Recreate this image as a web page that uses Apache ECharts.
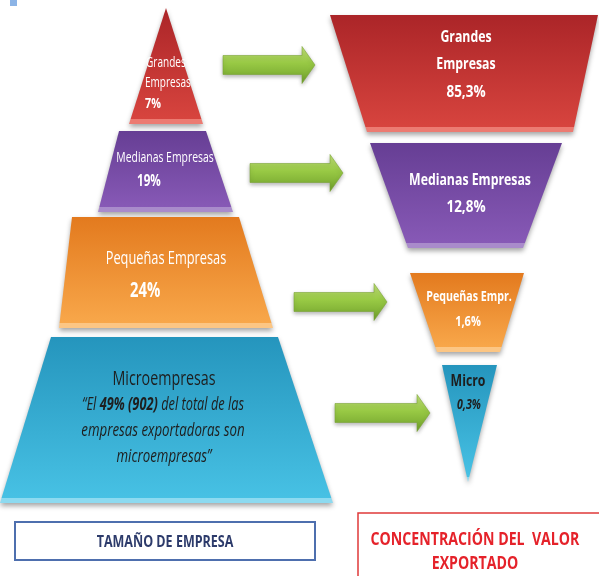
<!DOCTYPE html>
<html lang="es">
<head>
<meta charset="UTF-8">
<title>Tamaño de empresa y valor exportado</title>
<script src="https://cdn.jsdelivr.net/npm/echarts@6/dist/echarts.min.js"></script>
<style>
    html, body { margin: 0; padding: 0; background: #fff; }
    #main { width: 599px; height: 576px; }
</style>
</head>
<body>
<div id="main"></div>
<script type="text/javascript">
    // datos
    var sizeNames = ['Grandes Empresas', 'Medianas Empresas', 'Pequeñas Empresas', 'Microempresas'];
    var firmShare = [7, 19, 24, 49];
    var microCount = 902;
    var exportNames = ['Grandes Empresas', 'Medianas Empresas', 'Pequeñas Empr.', 'Micro'];
    var exportShare = [85.3, 12.8, 1.6, 0.3];

    // layout in axis units: y0, y1, topLeft, topRight, bottomLeft, bottomRight
    var leftBands = [
        [8, 124, 166, 166, 129, 203],
        [131, 212, 119, 206, 98, 233],
        [217, 328, 72, 239, 59, 273],
        [337, 503, 51, 278, 0, 333]
    ];
    var rightBands = [
        [15, 132, 330, 598, 367, 573],
        [143, 248, 370, 562, 408, 523],
        [273, 352, 410, 524, 437, 500],
        [365, 482, 442, 497, 468, 468]
    ];
    // tail x, tip x, center y
    var arrows = [[223, 315, 65], [250, 343, 173], [294, 387, 302], [335, 430, 413]];
    var fills = [
        ['#ab2528', '#d7443e', '#ec7b72'],
        ['#663e94', '#8759b6', '#a98bcb'],
        ['#e37a1e', '#f8a74a', '#fcc684'],
        ['#2595bd', '#47c1e4', '#8ddaf0']
    ];
    var FONT = '"Open Sans", sans-serif';
    var K = 1.1; // taller glyphs, squeezed back with scaleX

    function pct(v) {
        return String(v).replace('.', ',') + '%';
    }

    function font(size, bold, italic) {
        return (italic ? 'italic ' : '') + (bold ? 'bold ' : '') + (size * K).toFixed(1) + 'px ' + FONT;
    }

    // Calibri-like narrow text: squeeze Open Sans horizontally
    function txt(api, x, y, s, opt) {
        var p = api.coord([x, y]);
        return {
            type: 'text',
            x: p[0], y: p[1],
            scaleX: (opt.sx || 0.8) / K,
            style: {
                text: s, x: 0, y: 0,
                fill: opt.fill || '#fff',
                font: opt.font,
                align: opt.align || 'center',
                verticalAlign: 'middle',
                rich: opt.rich
            }
        };
    }

    function band(b, col, api) {
        var pts = [[b[2], b[0]], [b[3], b[0]], [b[5], b[1]], [b[4], b[1]]].map(function (q) {
            return api.coord(q);
        });
        var h = pts[2][1] - pts[0][1];
        var edge = Math.max(0, 1 - 5 / h);
        return {
            type: 'polygon',
            shape: { points: pts },
            style: {
                fill: new echarts.graphic.LinearGradient(0, 0, 0, 1, [
                    { offset: 0, color: col[0] },
                    { offset: edge, color: col[1] },
                    { offset: Math.min(1, edge + 0.001), color: col[2] },
                    { offset: 1, color: col[2] }
                ]),
                shadowBlur: 5,
                shadowOffsetY: 3,
                shadowColor: 'rgba(0,0,0,0.35)'
            }
        };
    }

    function leftLabels(i, api) {
        var dark = '#1e1e1e';
        var parts = sizeNames[i].split(' ');
        if (i == 0) {
            return [
                txt(api, 146, 63, parts[0], { font: font(12.5), align: 'left' }),
                txt(api, 145, 83, parts[1], { font: font(12.5), align: 'left' }),
                txt(api, 145, 104, pct(firmShare[i]), { font: font(13.5, true), align: 'left' })
            ];
        }
        if (i == 1) {
            return [
                txt(api, 165, 158, sizeNames[i], { font: font(13) }),
                txt(api, 137, 181, pct(firmShare[i]), { font: font(14.5, true), align: 'left' })
            ];
        }
        if (i == 2) {
            return [
                txt(api, 166, 259, sizeNames[i], { font: font(16) }),
                txt(api, 130, 291, pct(firmShare[i]), { font: font(19, true), align: 'left', sx: 0.78 })
            ];
        }
        var rich = {
            i: { font: font(16, false, true), fill: dark },
            b: { font: font(16, true, true), fill: dark }
        };
        return [
            txt(api, 164, 379, sizeNames[i], { font: font(18.5), fill: dark, sx: 0.77 }),
            txt(api, 163, 405, '{i|\u201cEl }{b|' + pct(firmShare[i]) + ' (' + microCount + ')}{i| del total de las}',
                { font: font(16, false, true), fill: dark, rich: rich }),
            txt(api, 163, 431, 'empresas exportadoras son', { font: font(16, false, true), fill: dark, sx: 0.83 }),
            txt(api, 164, 457, 'microempresas\u201d', { font: font(16, false, true), fill: dark, sx: 0.83 })
        ];
    }

    function rightLabels(i, api) {
        var dark = '#1e1e1e';
        if (i == 0) {
            var parts = exportNames[i].split(' ');
            return [
                txt(api, 466, 37, parts[0], { font: font(15, true), sx: 0.82 }),
                txt(api, 466, 64, parts[1], { font: font(15, true), sx: 0.82 }),
                txt(api, 466, 92, pct(exportShare[i]), { font: font(15, true), sx: 0.9 })
            ];
        }
        if (i == 1) {
            return [
                txt(api, 470, 180, exportNames[i], { font: font(15, true), sx: 0.82 }),
                txt(api, 466, 207, pct(exportShare[i]), { font: font(15, true), sx: 0.9 })
            ];
        }
        if (i == 2) {
            return [
                txt(api, 469, 297, exportNames[i], { font: font(13, true), sx: 0.82 }),
                txt(api, 468, 322, pct(exportShare[i]), { font: font(13, true), sx: 0.85 })
            ];
        }
        return [
            txt(api, 468, 381, exportNames[i], { font: font(15, true), fill: dark, sx: 0.82 }),
            txt(api, 469, 405, pct(exportShare[i]), { font: font(12.5, true, true), fill: dark, sx: 0.85 })
        ];
    }

    function renderArrow(params, api) {
        var a = arrows[params.dataIndex];
        var bh = 9.5, hh = 18.5, hl = 13;
        var cy = a[2], hx = a[1] - hl;
        var pts = [[a[0], cy - bh], [hx, cy - bh], [hx, cy - hh], [a[1], cy], [hx, cy + hh], [hx, cy + bh], [a[0], cy + bh]]
            .map(function (q) { return api.coord(q); });
        return {
            type: 'polygon',
            shape: { points: pts },
            style: {
                fill: new echarts.graphic.LinearGradient(0, 0, 0, 1, [
                    { offset: 0, color: '#c3e27a' },
                    { offset: 0.45, color: '#98c944' },
                    { offset: 1, color: '#6f9f2b' }
                ]),
                stroke: '#7aa536',
                lineWidth: 0.6,
                shadowBlur: 4,
                shadowOffsetY: 2,
                shadowColor: 'rgba(0,0,0,0.3)'
            }
        };
    }

    var chart = echarts.init(document.getElementById('main'));
    var option = {
        animation: false,
        grid: { left: 0, right: 0, top: 0, bottom: 0 },
        xAxis: { type: 'value', min: 0, max: 599, show: false },
        yAxis: { type: 'value', min: 0, max: 576, inverse: true, show: false },
        graphic: [
            { type: 'rect', shape: { x: 10, y: 0, width: 7, height: 6 }, style: { fill: '#8cb4e6' } },
            { type: 'rect', shape: { x: 15, y: 522, width: 300, height: 38 },
              style: { fill: '#fff', stroke: '#4e6fae', lineWidth: 2 } },
            { type: 'text', x: 165, y: 542, scaleX: 0.86 / K,
              style: { text: 'TAMAÑO DE EMPRESA', x: 0, y: 0, align: 'center', verticalAlign: 'middle',
                       font: font(14.5, true), fill: '#2d3b6b' } },
            { type: 'rect', shape: { x: 358, y: 513, width: 250, height: 75 },
              style: { fill: '#fff', stroke: '#e03a3a', lineWidth: 1.5 } },
            { type: 'text', x: 475, y: 540, scaleX: 0.91 / K,
              style: { text: 'CONCENTRACIÓN DEL  VALOR', x: 0, y: 0, align: 'center', verticalAlign: 'middle',
                       font: font(15.5, true), fill: '#e5222a' } },
            { type: 'text', x: 475, y: 564, scaleX: 0.91 / K,
              style: { text: 'EXPORTADO', x: 0, y: 0, align: 'center', verticalAlign: 'middle',
                       font: font(15.5, true), fill: '#e5222a' } }
        ],
        series: [
            {
                name: 'Tamaño de empresa',
                type: 'custom',
                data: firmShare.map(function (v, i) { return [i, v]; }),
                renderItem: function (params, api) {
                    var i = params.dataIndex;
                    return { type: 'group', children: [band(leftBands[i], fills[i], api)].concat(leftLabels(i, api)) };
                }
            },
            {
                name: 'Valor exportado',
                type: 'custom',
                data: exportShare.map(function (v, i) { return [i, v]; }),
                renderItem: function (params, api) {
                    var i = params.dataIndex;
                    return { type: 'group', children: [band(rightBands[i], fills[i], api)].concat(rightLabels(i, api)) };
                }
            },
            {
                name: 'flechas',
                type: 'custom',
                data: arrows.map(function (a, i) { return [i]; }),
                renderItem: renderArrow
            }
        ]
    };
    chart.setOption(option);
</script>
</body>
</html>
